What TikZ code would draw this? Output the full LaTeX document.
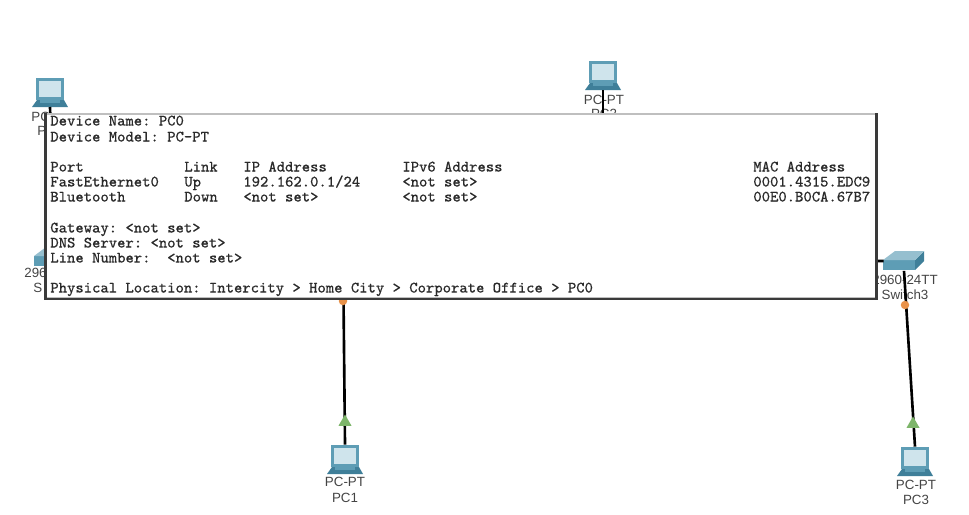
\documentclass[tikz,border=0pt]{standalone}
\usepackage{fontspec}
\setmainfont{Liberation Sans}
\setmonofont[FakeBold=0.25]{Latin Modern Mono}
\usepackage{xcolor}
\usetikzlibrary{shapes, shapes.geometric, positioning}
\definecolor{devblue}{HTML}{5E9DB5}
\definecolor{devdark}{HTML}{3F7F99}
\definecolor{devlight}{HTML}{CFE4EC}
\definecolor{linkup}{HTML}{7DB56A}
\definecolor{linkwait}{HTML}{E8924A}
\definecolor{paneledge}{HTML}{3A3A3A}
\definecolor{labelgray}{HTML}{444444}
\definecolor{infogray}{HTML}{2A2A2A}
\tikzset{
    pcicon/.pic={
        \fill[devdark] (-18,14) -- (-13,7) -- (14,7) -- (18,14) -- cycle;
        \node[draw=devblue, line width=1.8pt, fill=devlight, inner sep=0pt, minimum width=0.49cm, minimum height=0.39cm] (scr) at (0,-4) {};
        \fill[devblue] (-10,7) rectangle (10,10);
        \coordinate (base) at (0,14);
    },
    swicon/.pic={
        \fill[devblue] (-21,-1) -- (11,-1) -- (11,9) -- (-21,9) -- cycle;
        \fill[devdark] (11,-1) -- (20,-10) -- (20,0) -- (11,9) -- cycle;
        \fill[devblue!65!white] (-21,-1) -- (-9,-10) -- (20,-10) -- (11,-1) -- cycle;
        \node[inner sep=0pt, minimum width=0.8cm, minimum height=0.38cm] (body) at (0,0) {};
    },
    devlabel/.style={font=\fontsize{7.6pt}{7.6pt}\selectfont, text=labelgray, inner sep=0pt},
    cutlabel/.style={devlabel, anchor=west},
    link/.style={black, line width=1.5pt},
    upmark/.style={regular polygon, regular polygon sides=3, fill=linkup, inner sep=0pt, minimum size=0.3cm},
    waitmark/.style={circle, fill=linkwait, inner sep=0pt, minimum size=0.17cm},
    info/.style={anchor=west, inner sep=0pt, text height=6pt, text depth=2pt, text=infogray, font=\ttfamily\frenchspacing\fontsize{9.05pt}{9.05pt}\selectfont}
}
\begin{document}
\begin{tikzpicture}[x=0.02cm, y=-0.02cm]
    \useasboundingbox (0,0) rectangle (969,514);

    % devices
    \pic (pc0) at (50,93) {pcicon};
    \pic (pc1) at (345,460) {pcicon};
    \pic (pc2) at (603,76) {pcicon};
    \pic (pc3) at (915,462) {pcicon};
    \pic (sw0) at (55,257) {swicon};
    \pic (sw3) at (904,261) {swicon};

    % only the part of these left of the panel shows
    \node[cutlabel] (pc0type) at (31,117) {PC};
    \node[cutlabel] (pc0name) at (37,131) {P};
    \node[cutlabel] (sw0type) at (24,273) {296};
    \node[cutlabel] (sw0name) at (33,288) {S};

    \node[devlabel] (pc1type) at (345,482) {PC-PT};
    \node[devlabel] (pc1name) at (345,498) {PC1};
    \node[devlabel] (pc2type) at (604,100) {PC-PT};
    \node[devlabel] (pc2name) at (604,114) {PC2};
    \node[devlabel] (pc3type) at (916,485) {PC-PT};
    \node[devlabel] (pc3name) at (916,500) {PC3};
    \node[devlabel] (sw3type) at (905,280) {2960-24TT};
    \node[devlabel] (sw3name) at (905,295) {Switch3};

    % links, the far ends stay under the panel
    \coordinate (hub1) at (343,250);
    \coordinate (hub2) at (603,200);
    \coordinate (hub3) at (800,260);

    \draw[link] (pc0base) -- (sw0body.north);
    \draw[link] (pc1scr.north) -- (hub1);
    \draw[link] (pc2base) -- (hub2);
    \draw[link] (pc3scr.north) -- (sw3body.south);
    \draw[link] (hub3) -- (sw3body.west);

    \node[waitmark] (wait1) at (343,301) {};
    \node[waitmark] (wait3) at (905,305) {};
    \node[upmark] (up1) at (345,422) {};
    \node[upmark] (up3) at (913,424) {};

    % info panel
    \node[fill=white, draw=black!25, line width=0.8pt, inner sep=0pt, minimum width=16.6cm, minimum height=3.68cm] (panel) at (461,206) {};
    \draw[paneledge, line width=1.3pt] (panel.north west) -- (panel.south west) -- (panel.south east) -- (panel.north east);

    \node[info] (devname) at (50,122) {Device Name: PC0};
    \node[info] (devmodel) at (50,138) {Device Model: PC-PT};

    \node[info] (hport) at (50,168) {Port};
    \node[info] (hlink) at (184,168) {Link};
    \node[info] (hip) at (243,168) {IP Address};
    \node[info] (hipv6) at (402,168) {IPv6 Address};
    \node[info] (hmac) at (753,168) {MAC Address};

    \node[info] (fport) at (50,183) {FastEthernet0};
    \node[info] (flink) at (184,183) {Up};
    \node[info] (fip) at (243,183) {192.162.0.1/24};
    \node[info] (fipv6) at (402,183) {<not set>};
    \node[info] (fmac) at (753,183) {0001.4315.EDC9};

    \node[info] (bport) at (50,198) {Bluetooth};
    \node[info] (blink) at (184,198) {Down};
    \node[info] (bip) at (243,198) {<not set>};
    \node[info] (bipv6) at (402,198) {<not set>};
    \node[info] (bmac) at (753,198) {00E0.B0CA.67B7};

    \node[info] (gateway) at (50,229) {Gateway: <not set>};
    \node[info] (dns) at (50,244) {DNS Server: <not set>};
    \node[info] (line) at (50,259) {Line Number:\ \ <not set>};
    \node[info] (location) at (50,289) {Physical Location: Intercity > Home City > Corporate Office > PC0};
\end{tikzpicture}
\end{document}
